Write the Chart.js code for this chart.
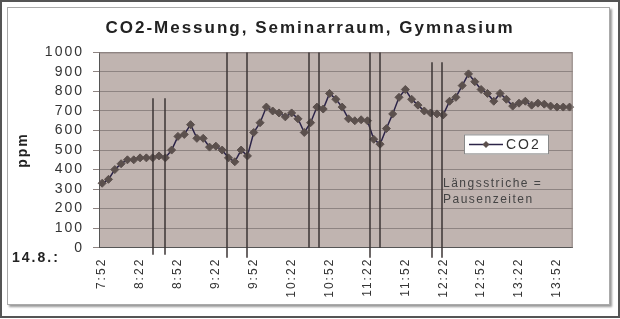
<!DOCTYPE html>
<html>
<head>
<meta charset="utf-8">
<script src="https://cdn.jsdelivr.net/npm/chart.js@4.4.1/dist/chart.umd.min.js"></script>
<style>
  html, body { margin: 0; padding: 0; background: #fff; }
  #wrap { position: relative; width: 620px; height: 319px; }
  #outer { position: absolute; left: 0; top: 0; width: 620px; height: 318px; box-sizing: border-box; border: 2px solid #555; }
  #inner { position: absolute; left: 7px; top: 7px; width: 603px; height: 298px; box-sizing: border-box; border: 1px solid #aaa; box-shadow: 2px 2px 2px #999; }
  canvas { position: absolute; left: 0; top: 0; }
</style>
</head>
<body>
<div id="wrap">
  <div id="outer"></div>
  <div id="inner"></div>
  <canvas id="co2Chart" width="620" height="319"></canvas>
</div>
<script>
// measuring times, 14.8., every 5 minutes
const times = [
  "7:52", "7:57",
  "8:02", "8:07", "8:12", "8:17", "8:22", "8:27", "8:32", "8:37", "8:42", "8:47", "8:52", "8:57",
  "9:02", "9:07", "9:12", "9:17", "9:22", "9:27", "9:32", "9:37", "9:42", "9:47", "9:52", "9:57",
  "10:02", "10:07", "10:12", "10:17", "10:22", "10:27", "10:32", "10:37", "10:42", "10:47", "10:52", "10:57",
  "11:02", "11:07", "11:12", "11:17", "11:22", "11:27", "11:32", "11:37", "11:42", "11:47", "11:52", "11:57",
  "12:02", "12:07", "12:12", "12:17", "12:22", "12:27", "12:32", "12:37", "12:42", "12:47", "12:52", "12:57",
  "13:02", "13:07", "13:12", "13:17", "13:22", "13:27", "13:32", "13:37", "13:42", "13:47", "13:52", "13:57",
  "14:02"
];

// CO2 in ppm
const co2 = [
  330, 350,
  400, 430, 450, 450, 460, 460, 460, 470, 460, 500, 570, 580,
  630, 560, 560, 515, 520, 500, 460, 440, 500, 470, 590, 640,
  720, 700, 690, 670, 690, 660, 590, 640, 720, 710, 790, 760,
  720, 660, 650, 655, 650, 555, 530, 610, 685, 770, 810, 760,
  730, 700, 690, 685, 680, 750, 770, 830, 890, 850, 810, 790,
  750, 790, 760, 725, 740, 750, 730, 740, 735, 725, 720, 720,
  720
];

// breaks (Pausen), drawn as vertical strokes
const pauseStart = ["8:32", "9:31", "10:36", "11:24", "12:13"];
const pauseEnd = ["8:42", "9:47", "10:44", "11:32", "12:21"];

const labelEvery = 6;

// stroke extents of the hand drawn pause lines
const pauseTop = [765, 1000, 1000, 1000, 950];
const pauseTail = [[7, 7], [10, 10], [0, 0], [10, 0], [10, 10]];

const toMinutes = (t) => {
  const [h, m] = t.split(":").map(Number);
  return h * 60 + m;
};
const timeToIndex = (t) => (toMinutes(t) - toMinutes(times[0])) / 5;

Chart.defaults.font.family = "'Liberation Sans', Arial, sans-serif";
Chart.defaults.color = "#333";

const lineColor = "#2c2448";
const markerColor = "#5b504d";

const extras = {
  id: "co2Extras",
  afterLayout(chart) {
    // title is centred on the whole picture, not on the plot
    const t = chart.titleBlock;
    t.left = 0;
    t.right = chart.width;
    t.width = chart.width;
  },
  beforeDraw(chart) {
    const { ctx, chartArea: a } = chart;
    ctx.letterSpacing = "2px";
    ctx.save();
    ctx.fillStyle = "#c0b4b0";
    ctx.fillRect(a.left, a.top, a.right - a.left, a.bottom - a.top);
    ctx.restore();
  },
  afterDatasetsDraw(chart) {
    const { ctx, chartArea: a, scales: { x, y } } = chart;
    ctx.save();
    // plot frame top / right
    ctx.strokeStyle = "#8e8482";
    ctx.lineWidth = 1;
    ctx.beginPath();
    ctx.moveTo(a.left, a.top + 0.5);
    ctx.lineTo(a.right - 0.5, a.top + 0.5);
    ctx.lineTo(a.right - 0.5, a.bottom);
    ctx.stroke();

    ctx.strokeStyle = "#3b3434";
    ctx.lineWidth = 1.5;
    pauseStart.forEach((start, i) => {
      [start, pauseEnd[i]].forEach((t, j) => {
        const px = Math.round(x.getPixelForValue(timeToIndex(t)));
        ctx.beginPath();
        ctx.moveTo(px, y.getPixelForValue(pauseTop[i]));
        ctx.lineTo(px, y.getPixelForValue(0) + pauseTail[i][j]);
        ctx.stroke();
      });
    });
    ctx.restore();
  },
  afterDraw(chart) {
    const { ctx, chartArea: a } = chart;
    const ds = chart.data.datasets[0];
    ctx.save();

    // legend
    const lx = a.left + 365, ly = a.top + 82;
    ctx.fillStyle = "#fff";
    ctx.fillRect(lx, ly, 85, 20);
    ctx.strokeStyle = "#888";
    ctx.lineWidth = 1;
    ctx.strokeRect(lx + 0.5, ly + 0.5, 84, 19);
    ctx.strokeStyle = lineColor;
    ctx.lineWidth = 1.5;
    ctx.beginPath();
    ctx.moveTo(lx + 5, ly + 10);
    ctx.lineTo(lx + 39, ly + 10);
    ctx.stroke();
    ctx.fillStyle = markerColor;
    ctx.beginPath();
    ctx.moveTo(lx + 22 - 3.5, ly + 10);
    ctx.lineTo(lx + 22, ly + 6.5);
    ctx.lineTo(lx + 22 + 3.5, ly + 10);
    ctx.lineTo(lx + 22, ly + 13.5);
    ctx.closePath();
    ctx.fill();
    ctx.fillStyle = "#333";
    ctx.font = "14px 'Liberation Sans', Arial, sans-serif";
    ctx.textBaseline = "middle";
    ctx.textAlign = "left";
    ctx.fillText(ds.label, lx + 42, ly + 10.5);

    // note
    ctx.letterSpacing = "1.5px";
    ctx.fillStyle = "#444";
    ctx.font = "12px 'Liberation Sans', Arial, sans-serif";
    ctx.fillText("Längsstriche =", a.left + 344, a.top + 131);
    ctx.fillText("Pausenzeiten", a.left + 344, a.top + 147);

    // date
    ctx.letterSpacing = "2px";
    ctx.fillStyle = "#222";
    ctx.font = "bold 14px 'Liberation Sans', Arial, sans-serif";
    ctx.fillText("14.8.:", 12, a.bottom + 10.5);
    ctx.restore();
  }
};

new Chart(document.getElementById("co2Chart"), {
  type: "line",
  data: {
    labels: times,
    datasets: [
      {
        label: "CO2",
        data: co2,
        borderColor: lineColor,
        borderWidth: 1.5,
        tension: 0,
        pointStyle: "rectRot",
        pointRadius: 4,
        pointBackgroundColor: markerColor,
        pointBorderColor: markerColor,
        pointBorderWidth: 1
      }
    ]
  },
  options: {
    responsive: false,
    animation: false,
    devicePixelRatio: 1,
    layout: { padding: { left: 0, right: 47.3, top: 0, bottom: 0 } },
    plugins: {
      legend: { display: false },
      tooltip: { enabled: false },
      title: {
        display: true,
        text: "CO2-Messung, Seminarraum, Gymnasium",
        color: "#222",
        font: { size: 17, weight: "bold" },
        padding: { top: 18, bottom: 14 }
      }
    },
    scales: {
      x: {
        offset: true,
        grid: { display: false, drawTicks: false },
        border: { color: "#555", width: 1 },
        ticks: {
          autoSkip: false,
          minRotation: 90,
          maxRotation: 90,
          padding: 10,
          color: "#333",
          font: { size: 12 },
          callback: (v, i) => (i % labelEvery === 0 ? times[i] : "")
        },
        afterFit: (scale) => { scale.height = 71.3; }
      },
      y: {
        min: 0,
        max: 1000,
        ticks: {
          stepSize: 100,
          autoSkip: false,
          padding: 9,
          color: "#333",
          font: { size: 14 },
          callback: (v) => String(v)
        },
        grid: { color: "#8e8482", tickLength: 6 },
        border: { color: "#555", width: 1 },
        title: {
          display: true,
          text: "ppm",
          color: "#222",
          font: { size: 14, weight: "bold" },
          padding: { top: 14.5, bottom: 0 }
        },
        afterFit: (scale) => { scale.width = 99; }
      }
    }
  },
  plugins: [extras]
});
</script>
</body>
</html>
